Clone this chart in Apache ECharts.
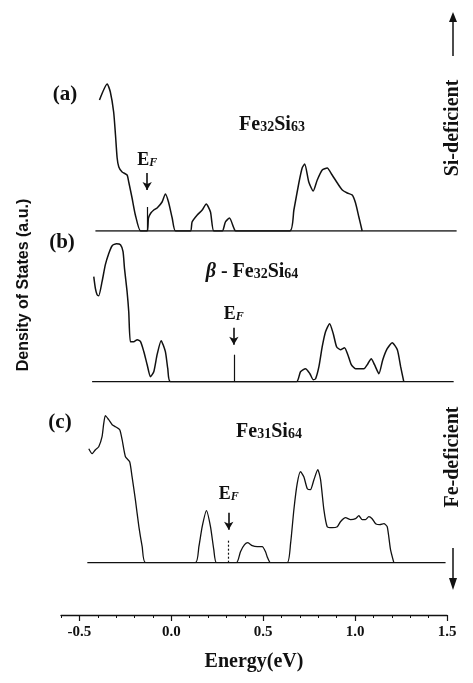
<!DOCTYPE html>
<html>
<head>
<meta charset="utf-8">
<script src="https://cdn.jsdelivr.net/npm/echarts@6/dist/echarts.min.js"></script>
<style>
  html, body { margin: 0; padding: 0; background: #fff; }
  #chart { width: 473px; height: 683px; }
</style>
</head>
<body>
<div id="chart"></div>
<script>
// Energy (eV) and density of states (a.u.) for the three supercells
const energyA = [-0.391, -0.349, -0.332, -0.314, -0.304, -0.295, -0.286, -0.268, -0.241, -0.232, -0.214, -0.196, -0.168, -0.132, -0.125, -0.112, -0.096, -0.078, -0.051, -0.033, -0.016, 0.004, 0.022, 0.103, 0.112, 0.140, 0.167, 0.189, 0.212, 0.230, 0.276, 0.293, 0.315, 0.339, 0.348, 0.643, 0.665, 0.692, 0.710, 0.724, 0.746, 0.770, 0.792, 0.819, 0.846, 0.873, 0.901, 0.928, 0.955, 0.982, 1.000, 1.018, 1.036];
const dosA = [131, 147, 139, 119, 96, 73, 64, 59, 56, 49, 33, 16, 0, 0, 13, 18, 21, 23, 29, 37, 29, 13, 0, 0, 9, 16, 21, 27, 19, 0, 0, 9, 13, 3, 0, 0, 21, 48, 63, 67, 49, 40, 51, 61, 63, 56, 48, 41, 38, 36, 28, 14, 0];

const energyB = [-0.422, -0.413, -0.404, -0.395, -0.377, -0.359, -0.341, -0.322, -0.299, -0.277, -0.263, -0.255, -0.241, -0.232, -0.223, -0.205, -0.186, -0.168, -0.150, -0.132, -0.114, -0.096, -0.078, -0.056, -0.033, -0.020, -0.005, 0.679, 0.701, 0.728, 0.752, 0.770, 0.783, 0.801, 0.819, 0.837, 0.859, 0.879, 0.897, 0.918, 0.940, 0.958, 0.977, 1.000, 1.045, 1.067, 1.085, 1.103, 1.127, 1.148, 1.172, 1.199, 1.227, 1.245, 1.262];
const dosB = [105, 93, 87, 86, 100, 117, 128, 136, 138, 137, 130, 113, 90, 70, 40, 40, 42, 40, 30, 17, 5, 10, 27, 41, 30, 13, 0, 0, 10, 13, 8, 2, 3, 15, 35, 50, 58, 48, 35, 32, 34, 27, 17, 13, 13, 18, 23, 17, 8, 22, 33, 39, 32, 15, 0];

const energyC = [-0.449, -0.431, -0.413, -0.395, -0.377, -0.368, -0.359, -0.341, -0.322, -0.304, -0.281, -0.268, -0.250, -0.227, -0.214, -0.196, -0.177, -0.159, -0.141, 0.130, 0.149, 0.167, 0.190, 0.212, 0.230, 0.245, 0.353, 0.375, 0.397, 0.415, 0.439, 0.466, 0.493, 0.511, 0.520, 0.538, 0.629, 0.647, 0.665, 0.683, 0.701, 0.719, 0.738, 0.755, 0.774, 0.795, 0.810, 0.828, 0.846, 0.873, 0.901, 0.918, 0.946, 0.973, 1.000, 1.018, 1.036, 1.054, 1.072, 1.090, 1.109, 1.132, 1.154, 1.172, 1.190, 1.208];
const dosC = [114, 109, 113, 116, 126, 139, 147, 143, 138, 136, 133, 123, 106, 101, 86, 63, 36, 16, 0, 0, 16, 36, 52, 36, 13, 0, 0, 11, 18, 20, 17, 16, 16, 11, 6, 0, 0, 19, 53, 79, 91, 86, 74, 73, 83, 93, 83, 53, 36, 35, 36, 41, 45, 43, 44, 47, 43, 43, 46, 44, 39, 38, 39, 36, 13, 0];

// energy span of each zero line
const baselineA = [-0.413, 1.549];
const baselineB = [-0.431, 1.533];
const baselineC = [-0.457, 1.489];

// Fermi level of each cell (eV)
const fermiLevels = [-0.132, 0.339, 0.311];

const panelLetters = ['(a)', '(b)', '(c)'];
const panelNames = ['Fe{s|32}Si{s|63}', '{b|β} - Fe{s|32}Si{s|64}', 'Fe{s|31}Si{s|64}'];

const tickValues = [-0.5, 0.0, 0.5, 1.0, 1.5];

// ---- layout ----
const SERIF = '"Liberation Serif", "Times New Roman", serif';
const plotLeft = 61, plotWidth = 405;          // -0.6 .. 1.6 eV
const panelBottoms = [231, 381.7, 562.7];
const panelHeight = 160;
const fermiStyle = [
  { stem: 24, arrowFrom: 58, arrowTo: 41, label: 71, type: 'solid' },
  { stem: 27, arrowFrom: 54, arrowTo: 37, label: 67, type: 'solid' },
  { stem: 23, arrowFrom: 50, arrowTo: 33, label: 68, type: [2, 2] }
];

const curves = [[energyA, dosA], [energyB, dosB], [energyC, dosC]];
const baselines = [baselineA, baselineB, baselineC];

const grids = [], xAxes = [], yAxes = [], series = [];
panelBottoms.forEach((bottom, i) => {
  grids.push({ left: plotLeft, width: plotWidth, top: bottom - panelHeight, height: panelHeight });
  xAxes.push({ gridIndex: i, type: 'value', min: -0.6, max: 1.6, show: false });
  yAxes.push({ gridIndex: i, type: 'value', min: 0, max: panelHeight, show: false });
  const [en, dos] = curves[i];
  const fs = fermiStyle[i];
  const ef = fermiLevels[i];
  series.push({
    type: 'line', xAxisIndex: i, yAxisIndex: i, silent: true,
    data: baselines[i].map(e => [e, 0]),
    symbol: 'none', lineStyle: { color: '#111', width: 1.6 }
  });
  series.push({
    type: 'line', xAxisIndex: i, yAxisIndex: i, silent: true,
    data: en.map((e, k) => [e, dos[k]]),
    symbol: 'none', smooth: 0.2,
    lineStyle: { color: '#111', width: i === 2 ? 1.3 : 1.5 },
    markLine: {
      silent: true, animation: false,
      label: { show: false },
      data: [
        [{ coord: [ef, 0], symbol: 'none', lineStyle: { color: '#111', width: 1.2, type: fs.type } },
         { coord: [ef, fs.stem], symbol: 'none' }],
        [{ coord: [ef, fs.arrowFrom], symbol: 'none', lineStyle: { color: '#111', width: 1.6, type: 'solid' } },
         { coord: [ef, fs.arrowTo], symbol: 'arrow', symbolSize: [7, 8] }]
      ]
    },
    markPoint: {
      silent: true, animation: false,
      symbol: 'circle', symbolSize: 0,
      data: [{ coord: [ef, fs.label] }],
      label: {
        show: true, position: 'inside',
        formatter: '{e|E}{f|F}',
        rich: {
          e: { fontFamily: SERIF, fontWeight: 'bold', fontSize: 18, color: '#111' },
          f: { fontFamily: SERIF, fontWeight: 'bold', fontStyle: 'italic', fontSize: 12, color: '#111', padding: [5, 0, 0, 0] }
        }
      }
    }
  });
});

// shared energy axis at the bottom
grids.push({ left: plotLeft, width: 386, top: 600, height: 15 });
xAxes.push({
  gridIndex: 3, type: 'value', min: -0.6, max: 1.5, interval: 0.1,
  axisLine: { lineStyle: { color: '#111', width: 1.4 } },
  axisTick: { length: 3, lineStyle: { color: '#111', width: 1 } },
  axisLabel: { show: false }, splitLine: { show: false }
});
xAxes.push({
  gridIndex: 3, type: 'value', min: -0.6, max: 1.5, position: 'bottom',
  axisLine: { show: false },
  axisTick: { show: true, length: 6, customValues: tickValues, lineStyle: { color: '#111', width: 1.2 } },
  axisLabel: {
    customValues: tickValues, margin: 10,
    formatter: v => v.toFixed(1),
    fontFamily: SERIF, fontWeight: 'bold', fontSize: 15, color: '#111'
  },
  splitLine: { show: false },
  name: 'Energy(eV)', nameLocation: 'middle', nameGap: 37,
  nameTextStyle: { fontFamily: SERIF, fontWeight: 'bold', fontSize: 20, color: '#111' }
});
yAxes.push({ gridIndex: 3, type: 'value', show: false });

// side notes and panel titles
const graphic = [];
const letterPos = [[65, 95], [62, 243], [60, 423]];
const namePos = [[272, 125], [252, 272], [269, 432]];
panelLetters.forEach((t, i) => {
  graphic.push({
    type: 'text', x: letterPos[i][0], y: letterPos[i][1],
    style: { text: t, fontFamily: SERIF, fontWeight: 'bold', fontSize: 21, fill: '#111', align: 'center', verticalAlign: 'middle' }
  });
  graphic.push({
    type: 'text', x: namePos[i][0], y: namePos[i][1],
    style: {
      text: panelNames[i], fontFamily: SERIF, fontWeight: 'bold', fontSize: 20, fill: '#111',
      align: 'center', verticalAlign: 'middle',
      rich: {
        s: { fontFamily: SERIF, fontWeight: 'bold', fontSize: 14, fill: '#111', padding: [4, 0, 0, 0] },
        b: { fontFamily: SERIF, fontWeight: 'bold', fontStyle: 'italic', fontSize: 20, fill: '#111' }
      }
    }
  });
});
graphic.push({
  type: 'text', x: 24, y: 285, rotation: Math.PI / 2,
  style: { text: 'Density of States (a.u.)', fontFamily: '"Liberation Sans Narrow", "Liberation Sans", sans-serif', fontWeight: 'bold', fontSize: 16, fill: '#111', align: 'center', verticalAlign: 'middle' }
});
graphic.push({
  type: 'text', x: 453, y: 128, rotation: Math.PI / 2,
  style: { text: 'Si-deficient', fontFamily: SERIF, fontWeight: 'bold', fontSize: 20, fill: '#111', align: 'center', verticalAlign: 'middle' }
});
graphic.push({
  type: 'text', x: 453, y: 457, rotation: Math.PI / 2,
  style: { text: 'Fe-deficient', fontFamily: SERIF, fontWeight: 'bold', fontSize: 20, fill: '#111', align: 'center', verticalAlign: 'middle' }
});
// up arrow above "Si-deficient", down arrow below "Fe-deficient"
graphic.push({ type: 'line', shape: { x1: 453, y1: 56, x2: 453, y2: 20 }, style: { stroke: '#111', lineWidth: 1.5 } });
graphic.push({ type: 'polygon', shape: { points: [[453, 12], [449, 22], [457, 22]] }, style: { fill: '#111' } });
graphic.push({ type: 'line', shape: { x1: 453, y1: 548, x2: 453, y2: 580 }, style: { stroke: '#111', lineWidth: 1.5 } });
graphic.push({ type: 'polygon', shape: { points: [[453, 590], [449, 578], [457, 578]] }, style: { fill: '#111' } });

const chart = echarts.init(document.getElementById('chart'), null, { renderer: 'canvas' });
chart.setOption({
  backgroundColor: '#fff',
  animation: false,
  grid: grids,
  xAxis: xAxes,
  yAxis: yAxes,
  series: series,
  graphic: graphic
});
</script>
</body>
</html>
